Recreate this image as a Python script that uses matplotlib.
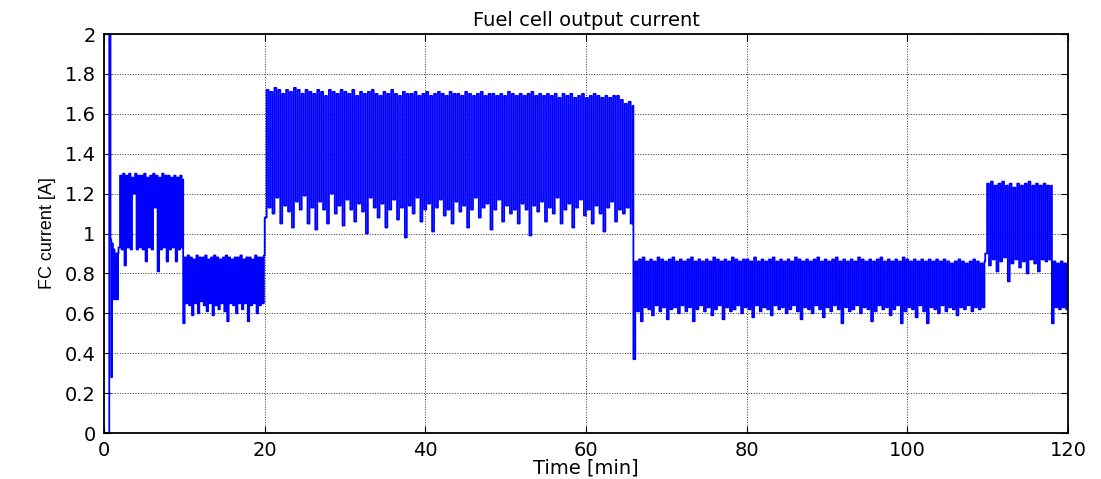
import numpy as np
import matplotlib
matplotlib.use("Agg")
import matplotlib.pyplot as plt

# start-up transient (time [min], current [A])
t_start = [0, 0.65, 0.65, 0.8, 0.9, 1.0, 1.1, 1.2, 1.3, 1.45, 1.6, 1.75]
i_start = [0, 0, 2.1, 0.97, 0.28, 0.95, 0.67, 0.92, 0.67, 0.90, 0.67, 0.90]

# load steps: (start, end) in minutes
seg_bounds = [(1.8, 9.85), (9.85, 19.9), (20.0, 65.8),
              (65.9, 109.6), (109.7, 117.9), (118.0, 120.0)]

# level 1: ~1.3 A
B_hi = [1.29, 1.30, 1.29, 1.30, 1.28, 1.30, 1.29, 1.29, 1.30, 1.28, 1.29,
        1.30, 1.29, 1.28, 1.30, 1.29, 1.29, 1.28, 1.29, 1.28, 1.29, 1.27]
B_lo = [0.93, 0.92, 0.84, 0.93, 0.92, 1.20, 0.92, 0.93, 0.92, 0.86, 0.93,
        0.92, 1.13, 0.81, 0.92, 0.93, 0.86, 0.92, 0.93, 0.86, 0.92, 0.93]

# level 2: ~0.88 A
C_hi = [0.88, 0.89, 0.88, 0.87, 0.89, 0.88, 0.88, 0.89, 0.87, 0.88, 0.89, 0.88, 0.87, 0.88,
        0.89, 0.88, 0.87, 0.88, 0.88, 0.89, 0.87, 0.88, 0.88, 0.87, 0.89, 0.88, 0.88, 0.89]
C_lo = [0.55, 0.65, 0.64, 0.59, 0.65, 0.60, 0.66, 0.64, 0.61, 0.65, 0.59, 0.64, 0.62, 0.65,
        0.61, 0.56, 0.65, 0.64, 0.60, 0.65, 0.62, 0.65, 0.56, 0.64, 0.65, 0.60, 0.64, 0.65]

# level 3: ~1.7 A
D_hi = [1.72, 1.71, 1.73, 1.72, 1.70, 1.72, 1.71, 1.73, 1.72, 1.70,
        1.72, 1.71, 1.70, 1.72, 1.71, 1.69, 1.72, 1.71, 1.70, 1.72,
        1.71, 1.70, 1.72, 1.69, 1.71, 1.70, 1.71, 1.72, 1.70, 1.69,
        1.71, 1.70, 1.72, 1.70, 1.69, 1.71, 1.70, 1.70, 1.71, 1.69,
        1.70, 1.71, 1.69, 1.70, 1.71, 1.70, 1.69, 1.71, 1.70, 1.70,
        1.69, 1.71, 1.70, 1.69, 1.70, 1.71, 1.69, 1.70, 1.70, 1.69,
        1.70, 1.69, 1.71, 1.70, 1.69, 1.70, 1.69, 1.70, 1.71, 1.69,
        1.70, 1.69, 1.70, 1.69, 1.70, 1.68, 1.70, 1.69, 1.70, 1.68,
        1.69, 1.70, 1.68, 1.69, 1.70, 1.69, 1.68, 1.69, 1.68, 1.69,
        1.69, 1.67, 1.65, 1.66, 1.64]
D_lo = [1.08, 1.13, 1.10, 1.18, 1.05, 1.14, 1.11, 1.03, 1.16, 1.12,
        1.19, 1.05, 1.13, 1.02, 1.16, 1.12, 1.05, 1.20, 1.10, 1.14,
        1.04, 1.17, 1.12, 1.06, 1.15, 1.11, 1.00, 1.18, 1.13, 1.08,
        1.15, 1.03, 1.12, 1.17, 1.07, 1.13, 0.98, 1.14, 1.10, 1.18,
        1.06, 1.12, 1.15, 1.01, 1.13, 1.17, 1.09, 1.12, 1.05, 1.16,
        1.11, 1.14, 1.03, 1.12, 1.18, 1.08, 1.13, 1.15, 1.02, 1.12,
        1.17, 1.06, 1.14, 1.10, 1.12, 1.05, 1.15, 1.12, 0.99, 1.14,
        1.11, 1.16, 1.06, 1.13, 1.10, 1.18, 1.05, 1.12, 1.15, 1.03,
        1.13, 1.17, 1.09, 1.12, 1.05, 1.14, 1.10, 1.01, 1.13, 1.16,
        1.06, 1.12, 1.10, 1.13, 1.05]

# level 4: ~0.87 A
E_hi = [0.86, 0.87, 0.88, 0.86, 0.87, 0.86, 0.88, 0.87, 0.86, 0.87,
        0.88, 0.86, 0.87, 0.86, 0.87, 0.88, 0.86, 0.87, 0.86, 0.87,
        0.86, 0.88, 0.87, 0.86, 0.87, 0.86, 0.88, 0.87, 0.86, 0.87,
        0.87, 0.86, 0.88, 0.86, 0.87, 0.86, 0.87, 0.88, 0.86, 0.87,
        0.86, 0.87, 0.86, 0.88, 0.87, 0.86, 0.87, 0.86, 0.87, 0.88,
        0.86, 0.87, 0.86, 0.87, 0.88, 0.86, 0.87, 0.86, 0.87, 0.86,
        0.88, 0.87, 0.86, 0.87, 0.86, 0.87, 0.88, 0.86, 0.87, 0.86,
        0.87, 0.86, 0.88, 0.87, 0.86, 0.87, 0.86, 0.87, 0.86, 0.87,
        0.86, 0.87, 0.86, 0.87, 0.86, 0.85, 0.86, 0.87, 0.86, 0.85,
        0.86, 0.87, 0.86, 0.85, 0.86]
E_lo = [0.37, 0.61, 0.56, 0.63, 0.62, 0.59, 0.64, 0.61, 0.63, 0.57,
        0.62, 0.63, 0.60, 0.64, 0.61, 0.63, 0.56, 0.62, 0.64, 0.61,
        0.63, 0.59, 0.62, 0.64, 0.57, 0.63, 0.61, 0.62, 0.64, 0.60,
        0.63, 0.62, 0.58, 0.64, 0.61, 0.63, 0.62, 0.59, 0.64, 0.62,
        0.63, 0.60, 0.62, 0.64, 0.61, 0.57, 0.63, 0.62, 0.60, 0.64,
        0.62, 0.58, 0.63, 0.61, 0.64, 0.62, 0.55, 0.63, 0.61, 0.62,
        0.64, 0.60, 0.63, 0.62, 0.56, 0.61, 0.64, 0.62, 0.63, 0.59,
        0.62, 0.64, 0.55, 0.61, 0.63, 0.62, 0.58, 0.64, 0.61, 0.55,
        0.63, 0.62, 0.60, 0.64, 0.61, 0.63, 0.62, 0.59, 0.63, 0.62,
        0.64, 0.61, 0.63, 0.62, 0.63]

# level 5: ~1.25 A
F_hi = [1.25, 1.26, 1.24, 1.25, 1.26, 1.24, 1.25, 1.23, 1.25,
        1.24, 1.25, 1.26, 1.24, 1.25, 1.24, 1.25, 1.24, 1.24]
F_lo = [0.90, 0.84, 0.87, 0.81, 0.86, 0.88, 0.76, 0.85, 0.87,
        0.83, 0.86, 0.80, 0.87, 0.85, 0.81, 0.87, 0.86, 0.87]

# level 6: ~0.86 A
G_hi = [0.86, 0.85, 0.86, 0.85, 0.86]
G_lo = [0.55, 0.63, 0.62, 0.63, 0.62]

segments = [(B_hi, B_lo), (C_hi, C_lo), (D_hi, D_lo),
            (E_hi, E_lo), (F_hi, F_lo), (G_hi, G_lo)]

t_all = list(t_start)
i_all = list(i_start)
for (t0, t1), (hi, lo) in zip(seg_bounds, segments):
    vals = []
    for l, h in zip(lo, hi):
        vals += [l, h]
    t_all += list(np.linspace(t0, t1, len(vals)))
    i_all += vals

plt.rcParams['font.family'] = ['DejaVu Sans']
fig = plt.figure(figsize=(11.01, 4.79), dpi=100)
ax = fig.add_axes([0.0945, 0.096, 0.8755, 0.833])

ax.plot(t_all, i_all, color='#0000ff', linewidth=1.3, drawstyle='steps-post')

ax.set_xlim(0, 120)
ax.set_ylim(0, 2)
ax.set_xticks(np.arange(0, 121, 20))
ax.set_yticks(np.arange(0, 2.01, 0.2))
ax.set_yticklabels(['0', '0.2', '0.4', '0.6', '0.8', '1', '1.2', '1.4', '1.6', '1.8', '2'])
ax.grid(True, color='black', linestyle=':', linewidth=0.7, alpha=0.8)
ax.tick_params(direction='in', top=True, right=True, length=5, labelsize=14, pad=6)
for s in ax.spines.values():
    s.set_linewidth(1.3)

ax.set_title('Fuel cell output current', fontsize=14, pad=6)
ax.set_xlabel('Time [min]', fontsize=14, labelpad=-1)
ax.set_ylabel('FC current [A]', fontsize=13, labelpad=6,
              family=['Liberation Sans Narrow', 'Liberation Sans'])

fig.savefig('out.png', dpi=100)
